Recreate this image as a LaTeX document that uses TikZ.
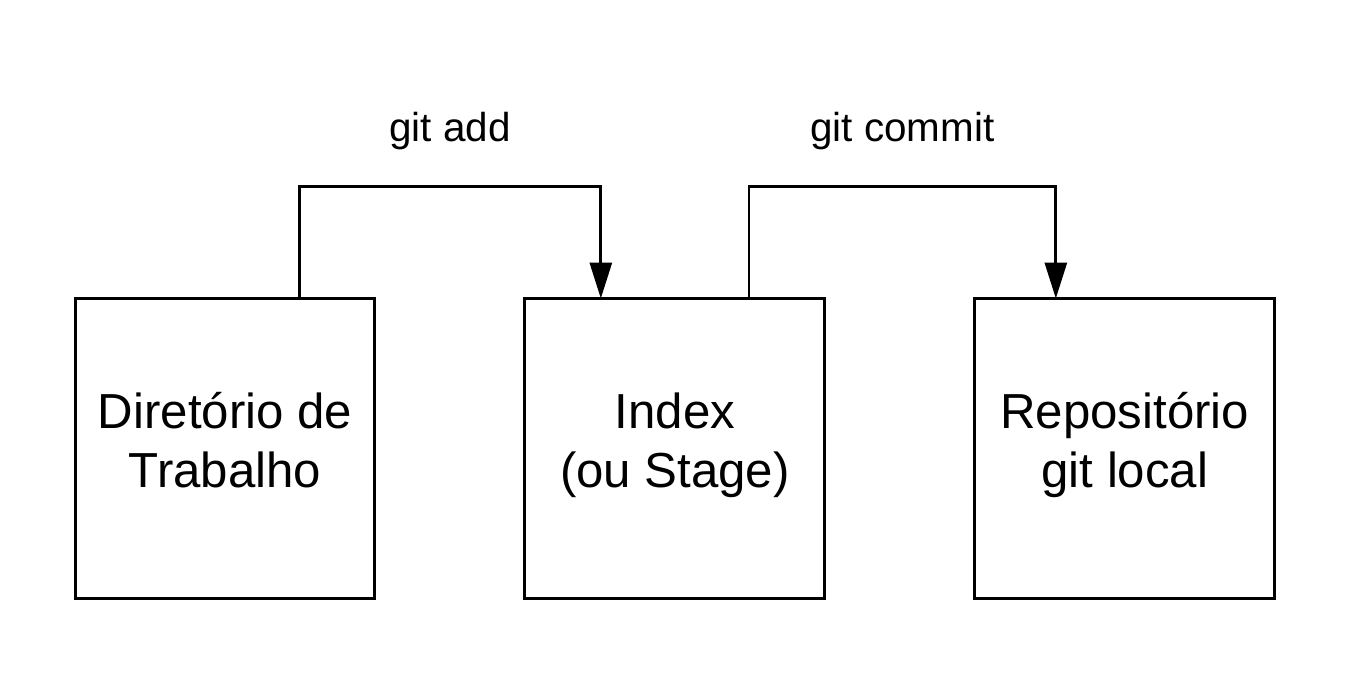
\documentclass[tikz,border=0pt]{standalone}
\usepackage{fontspec}
\setmainfont{Liberation Sans}
\usetikzlibrary{arrows.meta,positioning,calc}

\begin{document}
\begin{tikzpicture}[x=0.02cm,y=0.02cm,node distance=9cm,on grid,
  area/.style={draw,line width=1.7pt,minimum width=6cm,minimum height=6cm,
    align=center,font=\fontsize{28}{34}\selectfont,outer sep=0pt,
    text height=2cm,text depth=0.42cm},
  flow/.style={line width=1.7pt,-{Triangle[width=0.44cm,length=0.72cm]}},
  cmd/.style={font=\fontsize{23}{28}\selectfont,anchor=base,yshift=0.9cm}]
  \useasboundingbox (0,0) rectangle (1350,675);
  \node[area] (dir) at (225,226.5) {Diretório de\\Trabalho};
  \node[area] (idx) [right = of dir] {Index\\(ou Stage)};
  \node[area] (repo) [right = of idx] {Repositório\\git local};
  % pontos de saida e chegada das setas
  \coordinate (dirout) at ($(dir.north west)!0.747!(dir.north east)$);
  \coordinate (idxin) at ($(idx.north west)!0.253!(idx.north east)$);
  \coordinate (idxout) at ($(idx.north west)!0.747!(idx.north east)$);
  \coordinate (repoin) at ($(repo.north west)!0.27!(repo.north east)$);
  \draw[flow] (dirout) -- ++(0,112) -| node[cmd,pos=0.25] {git add} (idxin);
  \draw[flow] (idxout) -- ++(0,112) -| node[cmd,pos=0.25] {git commit} (repoin);
\end{tikzpicture}
\end{document}
